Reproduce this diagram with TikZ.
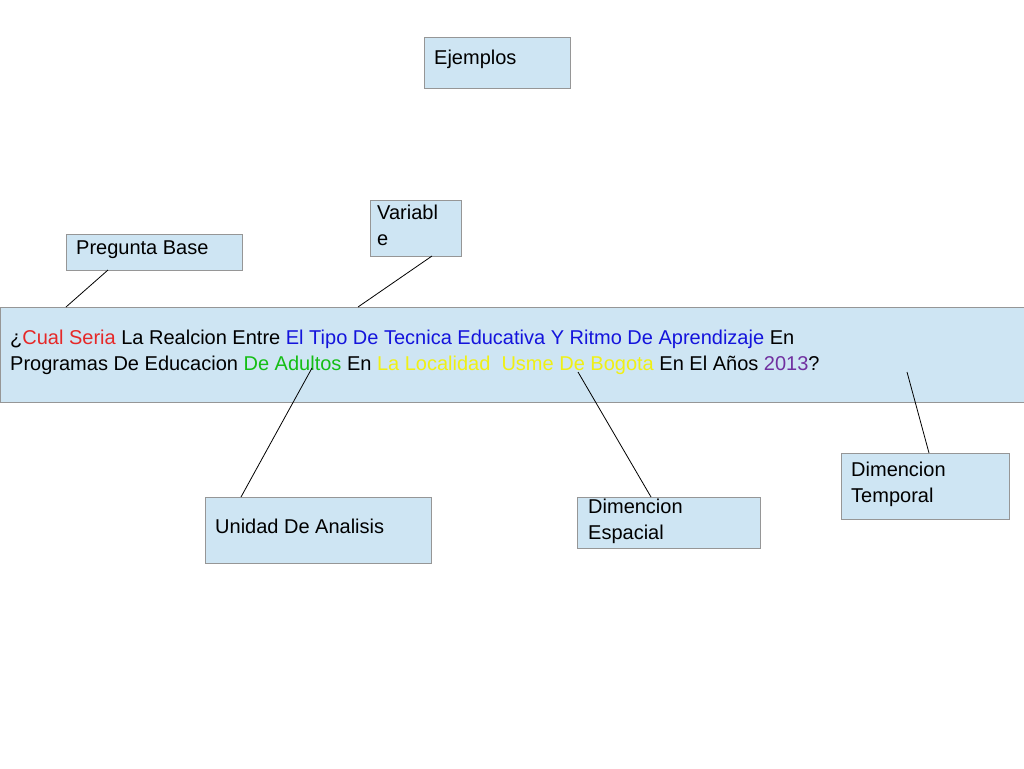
\documentclass[tikz,border=0pt]{standalone}
\usepackage{fontspec}
\setmainfont{Liberation Sans}
\definecolor{boxfill}{RGB}{206,229,243}
\definecolor{boxline}{RGB}{150,150,150}
\definecolor{qred}{RGB}{230,40,40}
\definecolor{qblue}{RGB}{20,20,220}
\definecolor{qgreen}{RGB}{20,190,20}
\definecolor{qyellow}{RGB}{240,240,20}
\definecolor{qpurple}{RGB}{112,48,160}
\begin{document}
\begin{tikzpicture}[x=1pt,y=-1pt,
  bx/.style={draw=boxline,fill=boxfill,line width=0.8pt},
  lbl/.style={anchor=north west,inner sep=0pt,align=left,font=\fontsize{20}{26}\selectfont},
  ln/.style={draw=black,line width=0.8pt}]
\useasboundingbox (0,0) rectangle (1024,768);
\draw[bx] (424,37) rectangle (570,88);
\node[lbl] (ej) at (434,50) {Ejemplos};
\draw[bx] (370,200) rectangle (461,256);
\coordinate (varb) at (432,256);
\node[lbl] (var) at (377,205) {Variabl\\e};
\draw[bx] (66,234) rectangle (242,270);
\coordinate (pregb) at (108,270);
\node[lbl] (preg) at (76,241) {Pregunta Base};
\draw[bx] (0,307) rectangle (1024,402);
\coordinate (maint1) at (66,307);
\coordinate (maint2) at (358,307);
\coordinate (pU) at (312,368);
\coordinate (pE) at (578,372);
\coordinate (pT) at (907,372);
\node[lbl] (main) at (10,330) {¿\textcolor{qred}{Cual Seria} La Realcion Entre \textcolor{qblue}{El Tipo De Tecnica Educativa Y Ritmo De Aprendizaje} En\\Programas De Educacion \textcolor{qgreen}{De Adultos} En \textcolor{qyellow}{La Localidad\ \ Usme De Bogota} En El Años \textcolor{qpurple}{2013}?};
\draw[bx] (205,497) rectangle (431,563);
\coordinate (unt) at (241,497);
\node[lbl] (uni) at (215,519) {Unidad De Analisis};
\draw[bx] (577,497) rectangle (760,548);
\coordinate (est) at (651,497);
\node[lbl] (esp) at (588,499) {Dimencion\\Espacial};
\draw[bx] (841,453) rectangle (1009,519);
\coordinate (tet) at (929,453);
\node[lbl] (tem) at (851,462) {Dimencion\\Temporal};
\draw[ln] (pregb) -- (maint1);
\draw[ln] (varb) -- (maint2);
\draw[ln] (unt) -- (pU);
\draw[ln] (est) -- (pE);
\draw[ln] (tet) -- (pT);
\end{tikzpicture}
\end{document}
